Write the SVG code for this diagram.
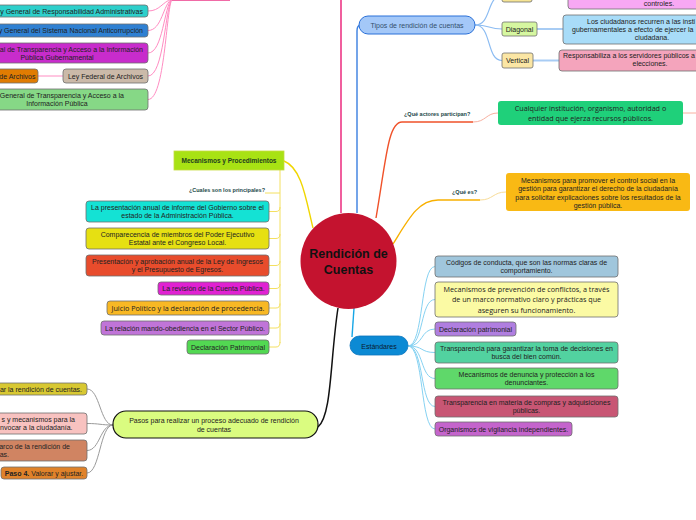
<svg xmlns="http://www.w3.org/2000/svg" width="696" height="520" viewBox="0 0 696 520">
<style>
text{font-family:"Liberation Sans",Arial,sans-serif;font-size:7px;fill:#222;}
.os{font-family:"Open Sans","Liberation Sans",sans-serif;font-size:7.2px;}
.c{text-anchor:middle;}
.e{text-anchor:end;}
.lbl{font-weight:bold;font-size:5.5px;fill:#224848;}
.box{stroke:#6e6e6e;stroke-width:0.8;}
.cn{fill:none;}
</style>
<rect width="696" height="520" fill="#fff"/>
<g id="connectors" class="cn">
  <path d="M341,213 L341,0" stroke="#ea1b74" stroke-width="1.4"/>
  <path d="M170,0 L230,0" stroke="#f06aa6" stroke-width="2"/>
  <g stroke="#ff8cc2" stroke-width="1">
    <path d="M148,11 C160,11 162,2 172,-1"/>
    <path d="M148,30.5 C162,30.5 163,4 172,-1"/>
    <path d="M148,53 C163,53 164,6 172,-1"/>
    <path d="M148,76 C164,76 165,8 172,-1"/>
    <path d="M148,99.5 C165,99.5 166,10 172,-1"/>
    <path d="M38,76 L63,76"/>
  </g>
  <path d="M357,213 L357,31 Q357,25 361,25" stroke="#3a7fe0" stroke-width="1.4"/>
  <g stroke="#8cbcf2" stroke-width="1.2">
    <path d="M475,25 C490,25 488,29 502,29"/>
    <path d="M475,25 C492,25 486,60.5 502,60.5"/>
    <path d="M475,25 C492,25 486,-4 502,-4"/>
  </g>
  <g stroke="#a8ccf4" stroke-width="2">
    <path d="M537,29 L563,29"/>
    <path d="M533,60.5 L559,60.5"/>
    <path d="M532,-5 L568,-5"/>
  </g>
  <path d="M376,218 C386,160 388,122 402,122 L473,122" stroke="#f0522a" stroke-width="1.4"/>
  <path d="M473,122 C486,122 486,113 498,113" stroke="#f8b0a0" stroke-width="1"/>
  <path d="M683,113 L696,113" stroke="#f8b0a0" stroke-width="1"/>
  <path d="M393,244 C408,220 418,200 438,200 L480,200" stroke="#f8b000" stroke-width="1.4"/>
  <path d="M480,200 C493,200 493,192 506,192" stroke="#f8dc98" stroke-width="1"/>
  <path d="M313,228 C306,200 302,168 284,161" stroke="#f0d600" stroke-width="1.4"/>
  <g stroke="#f4e060" stroke-width="1">
    <path d="M280,170 L280,343"/>
    <path d="M265,193 L280,193"/>
    <path d="M269,211.5 L276,211.5 Q280,211.5 280,207"/>
    <path d="M269,238.5 L276,238.5 Q280,238.5 280,234"/>
    <path d="M269,265.5 L276,265.5 Q280,265.5 280,261"/>
    <path d="M269,288.5 L276,288.5 Q280,288.5 280,284"/>
    <path d="M269,308 L276,308 Q280,308 280,303.5"/>
    <path d="M269,328 L276,328 Q280,328 280,323.5"/>
    <path d="M269,347 L276,347 Q280,347 280,342"/>
  </g>
  <path d="M338,308 C330,360 332,415 318,427" stroke="#111" stroke-width="1.5"/>
  <g stroke="#9a9a9a" stroke-width="1">
    <path d="M113,425 C100,425 100,389 87,389"/>
    <path d="M113,425 C100,425 100,423.5 87,423.5"/>
    <path d="M113,425 C100,425 100,450.5 87,450.5"/>
    <path d="M113,425 C100,425 100,473 87,473"/>
  </g>
  <path d="M354,308 L352,337" stroke="#16a6e6" stroke-width="1.4"/>
  <g stroke="#86d2f2" stroke-width="1">
    <path d="M408,346 C424,346 420,266.5 435,266.5"/>
    <path d="M408,346 C424,346 420,299.5 435,299.5"/>
    <path d="M408,346 C424,346 420,329 435,329"/>
    <path d="M408,346 C424,346 420,352.5 435,352.5"/>
    <path d="M408,346 C424,346 420,378.5 435,378.5"/>
    <path d="M408,346 C424,346 420,406.5 435,406.5"/>
    <path d="M408,346 C424,346 420,429 435,429"/>
  </g>
</g>

<g id="center">
  <circle cx="348.5" cy="261" r="48" fill="#c4132f"/>
  <text class="c" x="348.5" y="258" style="font-size:12.5px;font-weight:bold;fill:#111">Rendición de</text>
  <text class="c" x="348.5" y="274" style="font-size:12.5px;font-weight:bold;fill:#111">Cuentas</text>
</g>

<g id="n-resp"><rect class="box" x="-20" y="5" width="168" height="12" rx="3" fill="#2dcfcb"/><text class="e" x="143" y="13.5">y General de Responsabilidad Administrativas</text></g>
<g id="n-sna"><rect class="box" x="-20" y="24" width="168" height="13" rx="3" fill="#2f80d2"/><text class="e" x="143" y="33">y General del Sistema Nacional Anticorrupción</text></g>
<g id="n-lftaip"><rect class="box" x="-40" y="43" width="188" height="20" rx="3" fill="#c82ccc"/><text class="e" x="143" y="51.5">al de Transparencia y Acceso a la Información</text><text class="c" x="57" y="59.5">Pública Gubernamental</text></g>
<g id="n-lga"><rect class="box" x="-50" y="69" width="88" height="14" rx="3" fill="#e07c02"/><text class="e" x="35.5" y="78.5">de Archivos</text></g>
<g id="n-lfa"><rect class="box" x="63" y="69" width="85" height="14" rx="3" fill="#cbbaa9"/><text class="c" x="105.5" y="78.5">Ley Federal de Archivos</text></g>
<g id="n-lgtaip"><rect class="box" x="-40" y="89" width="188" height="21" rx="3" fill="#86d886"/><text class="e" x="124" y="97.5">General de Transparencia y Acceso a la</text><text class="c" x="57" y="105.5">Información Pública</text></g>

<g id="n-tipos"><rect x="359" y="16" width="116" height="18" rx="9" fill="#a4c8f8" stroke="#2a70d8" stroke-width="1"/><text class="c" x="417" y="27.5" style="fill:#34506c">Tipos de rendición de cuentas</text></g>
<g id="n-horiz"><rect class="box" x="502" y="-12" width="30" height="14" rx="2" fill="#f6e494"/></g>
<g id="n-horiz-d"><rect class="box" x="568" y="-20" width="140" height="29" rx="3" fill="#f8a8f4"/><text class="c" x="659" y="5.5">controles.</text></g>
<g id="n-diag"><rect class="box" x="502" y="22" width="35" height="14" rx="2" fill="#d6f7a0"/><text class="c" x="519.5" y="31.5">Diagonal</text></g>
<g id="n-diag-d"><rect class="box" x="563" y="15" width="150" height="29" rx="3" fill="#a8dcf8"/><text x="587" y="24">Los ciudadanos recurren a las insti</text><text x="572" y="31.8">gubernamentales a efecto de ejercer la</text><text class="c" x="652" y="39.6">ciudadana.</text></g>
<g id="n-vert"><rect class="box" x="502" y="53" width="31" height="15" rx="2" fill="#fbe6a4"/><text class="c" x="517.5" y="63">Vertical</text></g>
<g id="n-vert-d"><rect class="box" x="559" y="50" width="150" height="21" rx="3" fill="#f4a4bc"/><text x="563" y="58">Responsabiliza a los servidores públicos a</text><text class="c" x="650" y="66">elecciones.</text></g>

<g id="lbl-actores"><text x="404" y="116" class="lbl">¿Qué actores participan?</text></g>
<g id="n-actores"><rect x="498" y="101" width="185" height="24" rx="3" fill="#1fd07a"/><text class="c os" x="590.5" y="110.5">Cualquier institución, organismo, autoridad o</text><text class="c os" x="590.5" y="120.5">entidad que ejerza recursos públicos.</text></g>

<g id="lbl-quees"><text x="452" y="194" class="lbl">¿Qué es?</text></g>
<g id="n-quees"><rect x="506" y="173" width="184" height="38" rx="3" fill="#f9b914"/><text class="c" x="598" y="182.5">Mecanismos para promover el control social en la</text><text class="c" x="598" y="191">gestión para garantizar el derecho de la ciudadanía</text><text class="c" x="598" y="199.5">para solicitar explicaciones sobre los resultados de la</text><text class="c" x="598" y="207.5">gestión pública.</text></g>

<g id="n-mec"><rect x="174" y="151" width="110" height="19" fill="#a8e214" stroke="#c6dc40" stroke-width="0.8"/><text class="c" x="229" y="163" style="font-weight:bold;font-size:6.5px;fill:#1e3e1e">Mecanismos y Procedimientos</text></g>
<g id="lbl-cuales"><text x="265" y="191.5" class="lbl e">¿Cuales son los principales?</text></g>
<g id="m-a"><rect class="box" x="86" y="201" width="183" height="21" rx="3" fill="#14e2d4"/><text class="c" x="177.5" y="209.5">La presentación anual de informe del Gobierno sobre el</text><text class="c" x="177.5" y="217.5">estado de la Administración Pública.</text></g>
<g id="m-b"><rect class="box" x="86" y="228" width="183" height="21" rx="3" fill="#e6e012"/><text class="c" x="177.5" y="236.5">Comparecencia de miembros del Poder Ejecutivo</text><text class="c" x="177.5" y="244.5">Estatal ante el Congreso Local.</text></g>
<g id="m-c"><rect class="box" x="86" y="255" width="183" height="21" rx="3" fill="#e84c2c"/><text class="c" x="177.5" y="263.5">Presentación y aprobación anual de la Ley de Ingresos</text><text class="c" x="177.5" y="271.5">y el Presupuesto de Egresos.</text></g>
<g id="m-d"><rect class="box" x="158" y="282" width="111" height="13" rx="3" fill="#e022d2"/><text class="c" x="213.5" y="291">La revisión de la Cuenta Pública.</text></g>
<g id="m-e"><rect class="box" x="107" y="301" width="162" height="14" rx="3" fill="#f8b824"/><text class="c os" x="188" y="310.5">Juicio Político y la declaración de procedencia.</text></g>
<g id="m-f"><rect class="box" x="101" y="321" width="168" height="14" rx="3" fill="#c074d8"/><text class="c" x="185" y="330.5">La relación mando-obediencia en el Sector Público.</text></g>
<g id="m-g"><rect class="box" x="187" y="340" width="82" height="14" rx="3" fill="#52d852"/><text class="c" x="228" y="349.5">Declaración Patrimonial</text></g>

<g id="n-pasos"><rect x="113" y="411" width="205" height="27" rx="13" fill="#dafc80" stroke="#111" stroke-width="1.2"/><text class="c" x="214" y="423">Pasos para realizar un proceso adecuado de rendición</text><text class="c" x="214" y="432">de cuentas</text></g>
<g id="p-1"><rect class="box" x="-60" y="383" width="147" height="12" rx="3" fill="#d8c832"/><text class="e" x="82" y="391.5">ar la rendición de cuentas.</text></g>
<g id="p-2"><rect class="box" x="-100" y="413" width="187" height="21" rx="3" fill="#f8c2c0"/><text class="e" x="75" y="421.5">s y mecanismos para la</text><text class="e" x="72.5" y="429.5">nvocar a la ciudadanía.</text></g>
<g id="p-3"><rect class="box" x="-100" y="440" width="187" height="21" rx="3" fill="#d08462"/><text class="e" x="70" y="448.5">arco de la rendición de</text><text class="e" x="9" y="456.5">as.</text></g>
<g id="p-4"><rect class="box" x="1" y="467" width="86" height="12" rx="3" fill="#e0822a"/><text class="c" x="44" y="475.5"><tspan font-weight="bold">Paso 4.</tspan> Valorar y ajustar.</text></g>

<g id="n-est"><rect x="350" y="336" width="58" height="19" rx="9.5" fill="#0c8ad4" stroke="#0a74bc" stroke-width="0.8"/><text class="c" x="379" y="348.5" style="fill:#0a1a30">Estándares</text></g>
<g id="e-1"><rect class="box" x="435" y="256" width="183" height="21" rx="3" fill="#a0c6dc"/><text class="c" x="526.5" y="264.5">Códigos de conducta, que son las normas claras de</text><text class="c" x="526.5" y="272.5">comportamiento.</text></g>
<g id="e-2"><rect class="box" x="435" y="282" width="183" height="35" rx="3" fill="#fbfaa4"/><text class="c os" x="526.5" y="292">Mecanismos de prevención de conflictos, a través</text><text class="c os" x="526.5" y="302.3">de un marco normativo claro y prácticas que</text><text class="c os" x="526.5" y="312.5">aseguren su funcionamiento.</text></g>
<g id="e-3"><rect class="box" x="435" y="322" width="81" height="14" rx="3" fill="#b07ee0"/><text class="c" x="475.5" y="331.5">Declaración patrimonial</text></g>
<g id="e-4"><rect class="box" x="435" y="342" width="183" height="21" rx="3" fill="#52d2a0"/><text class="c" x="526.5" y="350.5">Transparencia para garantizar la toma de decisiones en</text><text class="c" x="526.5" y="358.5">busca del bien común.</text></g>
<g id="e-5"><rect class="box" x="435" y="368" width="183" height="21" rx="3" fill="#5fd86a"/><text class="c" x="526.5" y="376.5">Mecanismos de denuncia y protección a los</text><text class="c" x="526.5" y="384.5">denunciantes.</text></g>
<g id="e-6"><rect class="box" x="435" y="396" width="183" height="21" rx="3" fill="#c85674"/><text class="c" x="526.5" y="404.5">Transparencia en materia de compras y adquisiciones</text><text class="c" x="526.5" y="412.5">públicas.</text></g>
<g id="e-7"><rect class="box" x="435" y="422" width="137" height="14" rx="3" fill="#c464cc"/><text class="c" x="503.5" y="431.5">Organismos de vigilancia independientes.</text></g>
</svg>
